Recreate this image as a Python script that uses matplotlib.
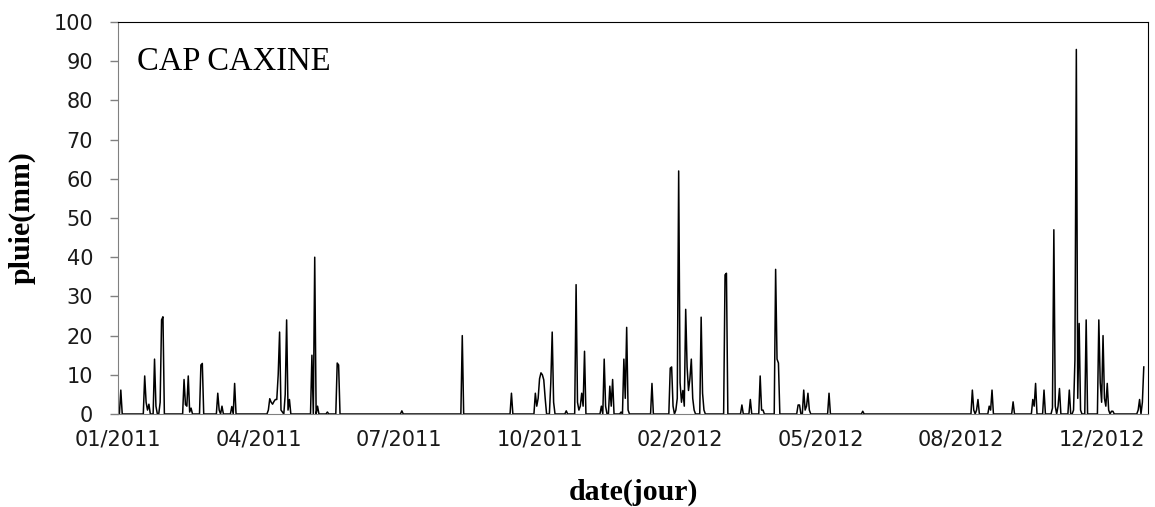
import numpy as np
import pandas as pd
import matplotlib
matplotlib.use("Agg")
import matplotlib.pyplot as plt

# pluie journaliere a Cap Caxine, jours comptes depuis le 01/01/2011
debut = "2011-01-01"
fin = "2012-12-31"
jours = [2, 19, 20, 21, 22, 26, 27, 30, 31, 32, 47, 48, 49, 50, 51, 52, 59, 60,
         71, 72, 74, 81, 83, 107, 108, 109, 110, 111, 112, 113, 114, 115, 116,
         117, 119, 120, 121, 122, 138, 140, 142, 149, 156, 157, 202, 245, 280,
         297, 298, 299, 300, 301, 302, 303, 304, 308, 309, 310, 319, 326, 327,
         328, 329, 330, 331, 332, 344, 346, 347, 350, 351, 352, 358, 360, 361,
         362, 363, 380, 393, 394, 395, 397, 398, 399, 400, 401, 402, 403, 404,
         405, 406, 407, 408, 409, 410, 415, 416, 417, 432, 433, 444, 450, 457,
         458, 459, 468, 469, 470, 484, 485, 488, 489, 490, 491, 492, 506, 530,
         608, 609, 611, 612, 620, 621, 622, 637, 651, 652, 653, 659, 665, 666,
         667, 669, 670, 677, 680, 681, 682, 683, 684, 685, 689, 698, 699, 700,
         701, 702, 703, 704, 705, 707, 708, 726, 727, 729, 730]
pluie = [6.1, 9.7, 3, 1, 2.5, 14, 2, 3, 24, 24.8, 8.8, 2.4, 2, 9.7, 0.5, 1.5, 12.5, 12.9,
         5.3, 1, 2, 1.9, 7.8, 1, 3.9, 3, 2.5, 3.2, 3.7, 3.7, 10, 20.9, 1,
         0.5, 5, 24, 1, 3.7, 15, 40, 2, 0.5, 13, 12.5, 0.8, 20, 5.3,
         5.3, 2, 4, 9, 10.5, 10, 8.7, 4, 8, 20.9, 3, 0.8, 33, 3,
         1, 2, 5.3, 2, 16, 2, 14, 2, 7.1, 2, 8.8, 0.5, 14, 4,
         22.1, 1, 7.8, 11.7, 12, 2, 1, 4, 62, 8, 3, 6, 2, 26.7,
         12, 6, 9, 14, 4, 1, 24.7, 5.3, 1, 35.5, 35.9, 2.3, 3.7, 9.7,
         1, 1, 36.9, 14, 13, 2.3, 2.3, 6.1, 1, 2, 5.3, 1, 5.3, 0.7,
         6.1, 1, 1, 3.7, 2, 1, 6.1, 3.1, 3.7, 2, 7.8, 6.1, 1.5, 47,
         2, 2, 6.5, 6.1, 1, 13.8, 93, 4, 23.1, 1, 24, 24, 8, 3,
         20, 4, 2, 7.8, 1, 0.7, 0.7, 1, 3.7, 3, 12]

dates = pd.date_range(debut, fin, freq="D")
serie = np.zeros(len(dates))
serie[jours] = pluie
x = np.arange(len(dates))

fig = plt.figure(figsize=(11.55, 5.07), dpi=100)
ax = fig.add_axes([118 / 1155, 1 - 414 / 507, 1030 / 1155, 392 / 507])

ax.plot(x, serie, color="black", linewidth=1.1)

ax.set_xlim(0, 733)
ax.set_ylim(0, 100)
ax.set_yticks(range(0, 101, 10))
pos = np.arange(0, len(dates), 100)
ax.set_xticks(pos)
ax.set_xticklabels([dates[p].strftime("%m/%Y") for p in pos])

for lab in ax.get_xticklabels() + ax.get_yticklabels():
    lab.set_fontfamily("DejaVu Sans")
    lab.set_fontsize(15)
    lab.set_color("#1a1a1a")

ax.tick_params(axis="x", length=0, pad=11)
ax.tick_params(axis="y", direction="out", length=6, width=1, color="#808080", pad=12)

ax.spines["left"].set_color("#808080")
ax.spines["bottom"].set_color("#808080")
ax.spines["top"].set_color("black")
ax.spines["right"].set_color("black")

ax.set_xlabel("date(jour)", fontfamily="Liberation Serif", fontweight="bold",
              fontsize=21.5, labelpad=21)
ax.set_ylabel("pluie(mm)", fontfamily="Liberation Serif", fontweight="bold",
              fontsize=21.5, labelpad=13)

ax.text(0.018, 0.898, "CAP CAXINE", transform=ax.transAxes,
        fontfamily="Liberation Serif", fontsize=23.5, va="center", ha="left")

fig.savefig("out.png", dpi=100)
